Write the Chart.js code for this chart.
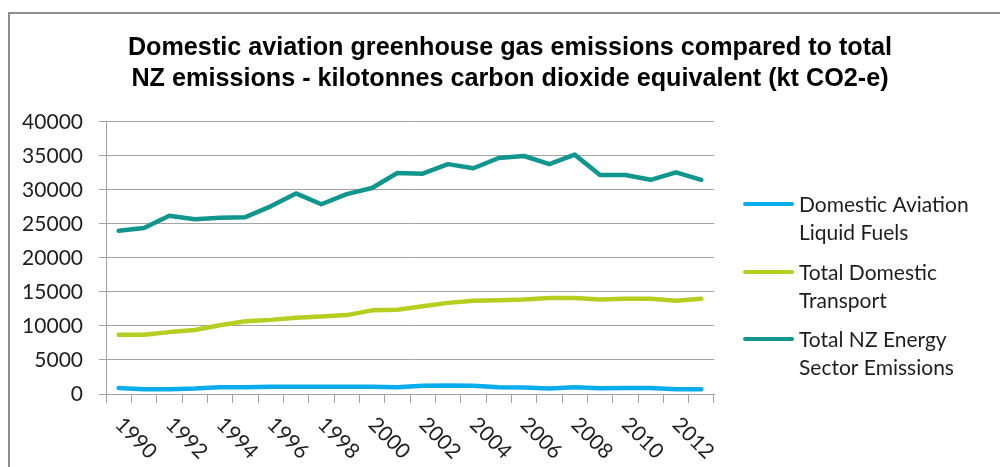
<!DOCTYPE html>
<html>
<head>
<meta charset="utf-8">
<script src="https://cdn.jsdelivr.net/npm/chart.js@4.4.1/dist/chart.umd.min.js"></script>
<style>
  html, body { margin: 0; padding: 0; background: #ffffff; }
  #wrap { width: 1000px; height: 467px; position: relative; }
</style>
</head>
<body>
<div id="wrap"><canvas id="c" width="1000" height="467"></canvas></div>
<script>
// ---- data ----
const years = ['1990','1991','1992','1993','1994','1995','1996','1997','1998','1999','2000','2001',
               '2002','2003','2004','2005','2006','2007','2008','2009','2010','2011','2012','2013'];
const aviation = [900, 700, 700, 800, 1000, 1000, 1050, 1050, 1050, 1050, 1050, 1000,
                  1200, 1250, 1200, 1000, 950, 800, 1000, 850, 900, 900, 700, 700];
const transport = [8700, 8700, 9100, 9400, 10100, 10700, 10900, 11200, 11400, 11600, 12300, 12400,
                   12900, 13400, 13700, 13800, 13900, 14100, 14100, 13900, 14000, 14000, 13700, 14000];
const energy = [24000, 24400, 26200, 25700, 25900, 26000, 27600, 29500, 27900, 29400, 30300, 32500,
                32400, 33800, 33200, 34700, 35000, 33800, 35200, 32200, 32200, 31500, 32600, 31500];
const seriesNames = [
  ['Domestic Aviation', 'Liquid Fuels'],
  ['Total Domestic', 'Transport'],
  ['Total NZ Energy', 'Sector Emissions']
];
const titleLines = [
  'Domestic aviation greenhouse gas emissions compared to total',
  'NZ emissions - kilotonnes carbon dioxide equivalent (kt CO2-e)'
];
const yTicks = [0, 5000, 10000, 15000, 20000, 25000, 30000, 35000, 40000];

// ---- styles ----
const colors = ['#0AADEC', '#B4CF1F', '#11968D'];
const gridColor = '#A3A3A3';
const textColor = '#1E1E1E';
const labelFont = 'Lato, "Open Sans", sans-serif';

const frame = {
  id: 'frame',
  beforeDraw(chart) {
    const ctx = chart.ctx;
    ctx.save();
    ctx.fillStyle = '#ffffff';
    ctx.fillRect(0, 0, chart.width, chart.height);
    ctx.strokeStyle = '#8E8E8E';
    ctx.lineWidth = 2;
    ctx.beginPath();
    ctx.moveTo(9, chart.height + 5);
    ctx.lineTo(9, 13);
    ctx.lineTo(chart.width + 5, 13);
    ctx.stroke();
    ctx.restore();
  }
};

const xLabels = {
  id: 'xLabels',
  afterDraw(chart) {
    const ctx = chart.ctx;
    const xs = chart.scales.x;
    ctx.save();
    ctx.font = '21px ' + labelFont;
    ctx.fillStyle = textColor;
    ctx.textAlign = 'left';
    ctx.textBaseline = 'middle';
    years.forEach((yr, i) => {
      if (i % 2 !== 0) return;
      const px = xs.getPixelForValue(i);
      ctx.save();
      ctx.translate(px + 0, xs.top + 27);
      ctx.rotate(Math.PI / 4);
      ctx.fillText(yr, 0, 0);
      ctx.restore();
    });
    ctx.restore();
  }
};

const legendBox = {
  id: 'legendBox',
  afterDraw(chart) {
    const ctx = chart.ctx;
    const itemY = [204, 272, 339];
    ctx.save();
    ctx.font = '21px ' + labelFont;
    ctx.textAlign = 'left';
    ctx.textBaseline = 'middle';
    chart.data.datasets.forEach((ds, i) => {
      const y = itemY[i];
      ctx.strokeStyle = ds.borderColor;
      ctx.lineWidth = 4;
      ctx.lineCap = 'round';
      ctx.beginPath();
      ctx.moveTo(745, y);
      ctx.lineTo(792, y);
      ctx.stroke();
      ctx.fillStyle = textColor;
      seriesNames[i].forEach((line, j) => {
        ctx.fillText(line, 799, y + 1 + j * 28.5);
      });
    });
    ctx.restore();
  }
};

new Chart(document.getElementById('c'), {
  type: 'line',
  data: {
    labels: years,
    datasets: [aviation, transport, energy].map((d, i) => ({
      label: seriesNames[i].join(' '),
      data: d,
      borderColor: colors[i],
      backgroundColor: colors[i],
      borderWidth: 4.5,
      pointRadius: 0,
      pointHoverRadius: 0,
      tension: 0,
      borderCapStyle: 'round',
      borderJoinStyle: 'round',
      fill: false
    }))
  },
  options: {
    responsive: false,
    animation: false,
    devicePixelRatio: 1,
    layout: { padding: { left: 20, right: 0, top: 0, bottom: 0 } },
    plugins: {
      legend: { display: false },
      tooltip: { enabled: false },
      title: {
        display: true,
        text: titleLines,
        color: '#000000',
        font: { family: '"Liberation Sans", Arial, sans-serif', size: 25.2, weight: 'bold', lineHeight: 1.21 },
        padding: { top: 33, bottom: 28 }
      }
    },
    scales: {
      x: {
        type: 'category',
        offset: true,
        ticks: { display: false },
        grid: { display: true, drawOnChartArea: false, drawTicks: true, tickLength: 9, offset: true, color: gridColor, lineWidth: 1 },
        border: { display: true, color: gridColor, width: 1 },
        afterFit(scale) { scale.height = 73; }
      },
      y: {
        min: 0,
        max: 40000,
        afterBuildTicks(scale) { scale.ticks = yTicks.map(v => ({ value: v })); },
        ticks: {
          color: textColor,
          padding: 16,
          font: { family: labelFont, size: 21 },
          callback: (v) => String(v)
        },
        grid: { color: gridColor, lineWidth: 1, tickLength: 7, drawTicks: true },
        border: { display: true, color: gridColor, width: 1 },
        afterFit(scale) { scale.width = 86; }
      },
      legendSpace: {
        type: 'linear',
        position: 'right',
        display: true,
        min: 0,
        max: 1,
        ticks: { display: false },
        grid: { display: false, drawTicks: false },
        border: { display: false },
        afterFit(scale) { scale.width = 286; }
      }
    }
  },
  plugins: [frame, xLabels, legendBox]
});
</script>
</body>
</html>
